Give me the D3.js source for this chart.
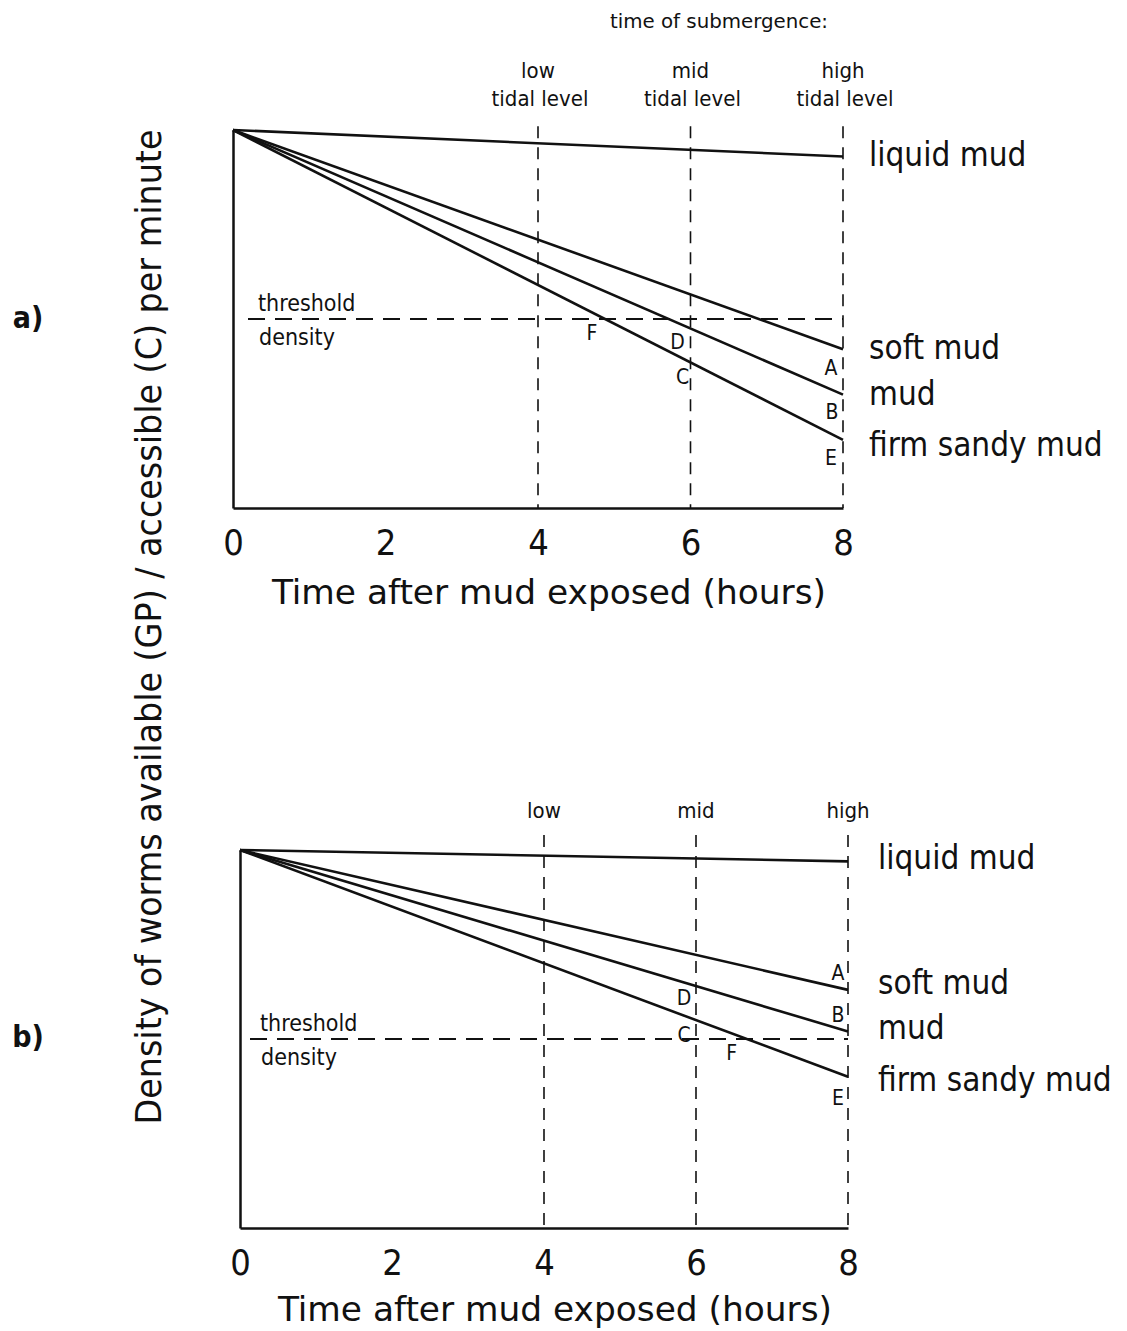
<!DOCTYPE html>
<html><head><meta charset="utf-8">
<script src="https://cdn.jsdelivr.net/npm/d3@7"></script>
<style>
body{margin:0;background:#fff;}
text{font-family:"DejaVu Sans Condensed","DejaVu Sans",sans-serif;fill:#111;}
</style></head>
<body><svg id="c" width="1127" height="1331"></svg>
<script>
// ---- data ----
const hours = [0, 8];
const tickHours = [0, 2, 4, 6, 8];
const tickLabels = ["0", "2", "4", "6", "8"];
const substrates = ["liquid mud", "soft mud", "mud", "firm sandy mud"];
const endLetters = [null, "A", "B", "E"];
const startValue = 100;
const endValuesA = [93, 42, 30, 18];
const endValuesB = [97, 63, 52, 40];
const threshold = 50;
const tidalHours = [4, 6, 8];
const tidalLabelsA = [["low", "tidal level"], ["mid", "tidal level"], ["high", "tidal level"]];
const tidalLabelsB = [["low"], ["mid"], ["high"]];

const svg = d3.select("#c");
const ink = "#111";

function panel(cfg) {
  const x = d3.scaleLinear().domain([0, 8]).range([cfg.x0, cfg.x1]);
  const y = d3.scaleLinear().domain([0, 100]).range([cfg.yb, cfg.yt]);
  const g = svg.append("g");
  // axes (left & bottom)
  const axL = d3.axisLeft(y).tickValues([]).tickSizeOuter(0);
  g.append("g").attr("transform", `translate(${x(0)},0)`).call(axL)
    .call(s => s.select(".domain").attr("stroke", ink).attr("stroke-width", 2.5));
  const axB = d3.axisBottom(x).tickValues(tickHours).tickSize(0).tickFormat((d, i) => tickLabels[i]);
  const gb = g.append("g").attr("transform", `translate(0,${y(0)})`).call(axB);
  gb.select(".domain").attr("stroke", ink).attr("stroke-width", 2.5);
  gb.selectAll("text").attr("font-size", 36).attr("dy", 0).attr("y", 47)
    .style("font-family", '"DejaVu Sans Condensed",sans-serif').attr("fill", ink);

  // vertical dashed tidal lines
  tidalHours.forEach((h, i) => {
    g.append("line").attr("x1", x(h)).attr("x2", x(h))
      .attr("y1", y(cfg.vTop)).attr("y2", y(0))
      .attr("stroke", ink).attr("stroke-width", 1.6).attr("stroke-dasharray", "12,9");
    const lab = cfg.tidal[i];
    lab.forEach((t, j) => {
      g.append("text").attr("x", x(h) + (j === 1 ? 2 : 0)).attr("y", cfg.tidalY + j * 28)
        .attr("text-anchor", "middle").attr("font-size", 22).text(t);
    });
  });

  // threshold
  g.append("line").attr("x1", cfg.thrX).attr("x2", x(8))
    .attr("y1", y(threshold)).attr("y2", y(threshold))
    .attr("stroke", ink).attr("stroke-width", 1.8).attr("stroke-dasharray", "17,10");
  g.append("text").attr("x", cfg.thrX + 10).attr("y", y(threshold) - 8).attr("font-size", 23).text("threshold");
  g.append("text").attr("x", cfg.thrX + 11).attr("y", y(threshold) + 26).attr("font-size", 23).text("density");

  // substrate lines
  const line = d3.line().x(d => x(d[0])).y(d => y(d[1]));
  substrates.forEach((name, i) => {
    const pts = [[hours[0], startValue], [hours[1], cfg.ends[i]]];
    g.append("path").attr("d", line(pts)).attr("fill", "none")
      .attr("stroke", ink).attr("stroke-width", 2.6);
    g.append("text").attr("x", x(8) + cfg.nameDx).attr("y", y(cfg.ends[i]) + cfg.nameDy[i])
      .attr("font-size", 33).text(name);
    if (endLetters[i]) {
      const o = cfg.letterOff[i];
      g.append("text").attr("x", x(8) + o[0]).attr("y", y(cfg.ends[i]) + o[1])
        .attr("text-anchor", "middle").attr("dominant-baseline", "central")
        .attr("font-size", 21).text(endLetters[i]);
    }
  });
  // D, C at hour 6 on mud and firm sandy mud
  const valAt = (i, h) => startValue + (cfg.ends[i] - startValue) * h / 8;
  [["D", 2], ["C", 3]].forEach(([L, i]) => {
    const o = cfg.dcOff[L];
    g.append("text").attr("x", x(6) + o[0]).attr("y", y(valAt(i, 6)) + o[1])
      .attr("text-anchor", "middle").attr("dominant-baseline", "central").attr("font-size", 21).text(L);
  });
  // F where firm sandy mud meets threshold
  const hF = (startValue - threshold) / (startValue - cfg.ends[3]) * 8;
  g.append("text").attr("x", x(hF) + cfg.fOff[0]).attr("y", y(threshold) + cfg.fOff[1])
    .attr("text-anchor", "middle").attr("dominant-baseline", "central").attr("font-size", 21).text("F");

  // x title
  g.append("text").attr("x", cfg.titleX).attr("y", cfg.titleY).attr("text-anchor", "middle")
    .attr("font-size", 34).attr("textLength", 554).attr("lengthAdjust", "spacingAndGlyphs")
    .text("Time after mud exposed  (hours)");
}

panel({x0: 233, x1: 843, yt: 130, yb: 508, ends: endValuesA, vTop: 101,
  tidal: tidalLabelsA, tidalY: 78, thrX: 248,
  nameDx: 26, nameDy: [10, 10, 10, 16],
  letterOff: [null, [-12, 19], [-11, 17], [-12, 18]],
  dcOff: {D: [-13, 14], C: [-8, 15]}, fOff: [-13, 14],
  titleX: 549, titleY: 604});

panel({x0: 240, x1: 848, yt: 850, yb: 1228, ends: endValuesB, vTop: 104,
  tidal: tidalLabelsB, tidalY: 818, thrX: 250,
  nameDx: 30, nameDy: [8, 4, 8, 14],
  letterOff: [null, [-10, -17], [-10, -16], [-10, 21]],
  dcOff: {D: [-12, 12], C: [-12, 15]}, fOff: [-15, 14],
  titleX: 555, titleY: 1321});

// shared annotations
svg.append("text").attr("x", 719).attr("y", 28).attr("text-anchor", "middle")
  .attr("font-size", 19).attr("textLength", 218).attr("lengthAdjust", "spacingAndGlyphs")
  .text("time of submergence:");
svg.append("text").attr("transform", "translate(161,627) rotate(-90)")
  .attr("text-anchor", "middle").attr("font-size", 35)
  .attr("textLength", 995).attr("lengthAdjust", "spacingAndGlyphs")
  .text("Density of worms available (GP) / accessible (C)  per minute");
svg.append("text").attr("x", 28).attr("y", 328).attr("text-anchor", "middle")
  .attr("font-size", 30).attr("font-weight", "bold").text("a)");
svg.append("text").attr("x", 28).attr("y", 1047).attr("text-anchor", "middle")
  .attr("font-size", 30).attr("font-weight", "bold").text("b)");
</script></body></html>
